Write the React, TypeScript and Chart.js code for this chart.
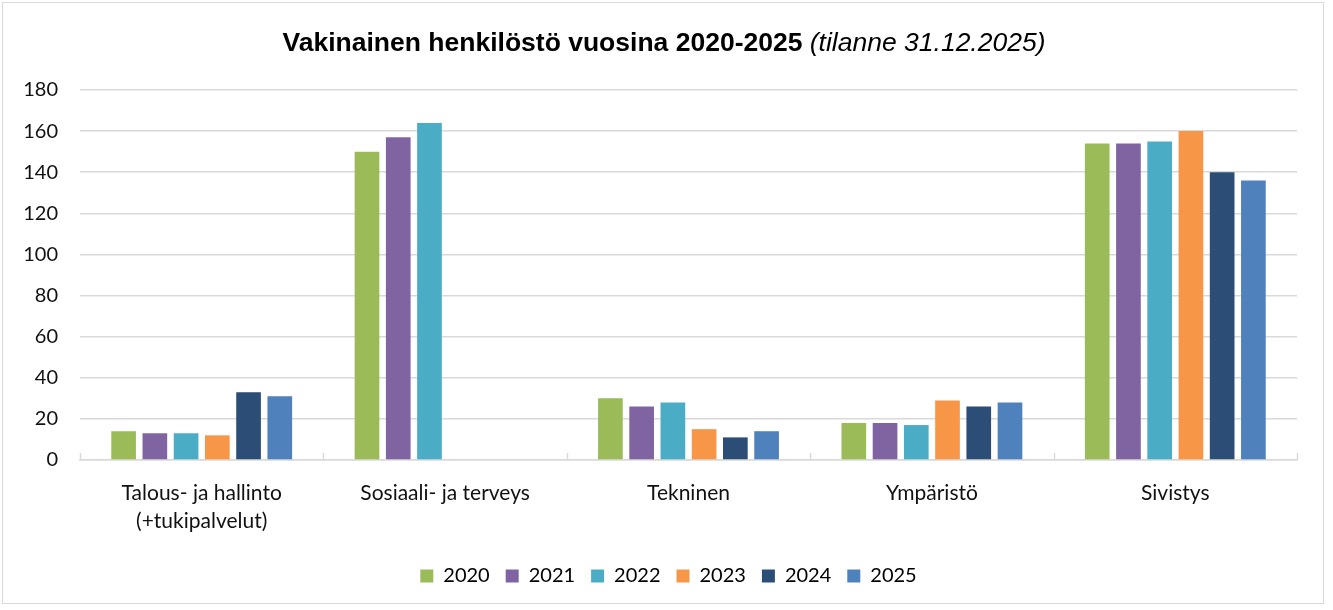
import React, { useEffect, useRef } from "react";
import { Chart, registerables } from "chart.js";

Chart.register(...registerables);

const categories: (string | string[])[] = [
  ["Talous- ja hallinto", "(+tukipalvelut)"],
  "Sosiaali- ja terveys",
  "Tekninen",
  "Ympäristö",
  "Sivistys",
];
const years = ["2020", "2021", "2022", "2023", "2024", "2025"];
const v2020 = [14, 150, 30, 18, 154];
const v2021 = [13, 157, 26, 18, 154];
const v2022 = [13, 164, 28, 17, 155];
const v2023 = [12, null, 15, 29, 160];
const v2024 = [33, null, 11, 26, 140];
const v2025 = [31, null, 14, 28, 136];
const seriesValues = [v2020, v2021, v2022, v2023, v2024, v2025];
const colors = ["#9BBB59", "#8064A2", "#4BACC6", "#F79646", "#2C4D75", "#4F81BD"];
const yTicks = [0, 20, 40, 60, 80, 100, 120, 140, 160, 180];
const titleMain = "Vakinainen henkilöstö vuosina 2020-2025";
const titleSub = "(tilanne 31.12.2025)";

const FONT = "Lato, 'Liberation Sans', sans-serif";

const titlePlugin = {
  id: "mixedTitle",
  afterLayout(chart: any) {
    if (chart.legend) {
      chart.legend.left += 20;
      chart.legend.right += 20;
    }
  },
  afterDraw(chart: any) {
    const ctx = chart.ctx;
    ctx.save();
    const boldFont = "bold 26.5px 'Liberation Sans', Arial, sans-serif";
    const italicFont = "italic 26.5px 'Liberation Sans', Arial, sans-serif";
    ctx.font = boldFont;
    const w1 = ctx.measureText(titleMain + " ").width;
    ctx.font = italicFont;
    const w2 = ctx.measureText(titleSub).width;
    const cx = 664;
    let x = cx - (w1 + w2) / 2;
    ctx.textBaseline = "middle";
    ctx.textAlign = "left";
    ctx.fillStyle = "#000";
    ctx.font = boldFont;
    ctx.fillText(titleMain + " ", x, 44);
    ctx.font = italicFont;
    ctx.fillText(titleSub, x + w1, 44);
    ctx.restore();
  },
};

const innerTicksPlugin = {
  id: "innerTicks",
  afterDatasetsDraw(chart: any) {
    const { ctx, chartArea, scales } = chart;
    const xs = scales.x;
    const n = categories.length;
    const step = (chartArea.right - chartArea.left) / n;
    ctx.save();
    ctx.strokeStyle = "#d9d9d9";
    ctx.lineWidth = 1.5;
    for (let i = 0; i <= n; i++) {
      const x = Math.round(xs.left + step * i) + 0.5;
      ctx.beginPath();
      ctx.moveTo(x, chartArea.bottom - 7);
      ctx.lineTo(x, chartArea.bottom);
      ctx.stroke();
    }
    ctx.restore();
  },
};

export default function App() {
  const ref = useRef<HTMLCanvasElement | null>(null);
  useEffect(() => {
    if (!ref.current) return;
    const chart = new Chart(ref.current, {
      type: "bar",
      data: {
        labels: categories,
        datasets: years.map((y, i) => ({
          label: y,
          data: seriesValues[i],
          backgroundColor: colors[i],
          borderWidth: 0,
          categoryPercentage: 0.77,
          barPercentage: 0.79,
        })),
      },
      options: {
        animation: false,
        responsive: false,
        layout: { padding: { top: 90, right: 36, left: 0, bottom: 14 } },
        plugins: {
          title: { display: false },
          tooltip: { enabled: false },
          legend: {
            position: "bottom",
            labels: {
              boxWidth: 13,
              boxHeight: 13,
              padding: 16,
              color: "#000",
              font: { family: FONT, size: 20 },
            },
          },
        },
        scales: {
          x: {
            grid: { display: false, drawTicks: false },
            border: { display: true, color: "#d9d9d9", width: 1.5 },
            ticks: {
              color: "#111",
              font: { family: FONT, size: 21, lineHeight: 1.33 },
              padding: 19,
              maxRotation: 0,
              autoSkip: false,
            },
            afterFit(scale: any) {
              scale.height = 90;
            },
          },
          y: {
            min: 0,
            max: 180,
            afterBuildTicks(scale: any) {
              scale.ticks = yTicks.map((v) => ({ value: v }));
            },
            grid: { color: "#d9d9d9", lineWidth: 1.5, drawTicks: false },
            border: { display: false },
            ticks: {
              color: "#111",
              font: { family: FONT, size: 20 },
              padding: 22,
            },
            afterFit(scale: any) {
              scale.width = 80;
            },
          },
        },
      },
      plugins: [titlePlugin, innerTicksPlugin],
    });
    return () => chart.destroy();
  }, []);
  return (
    <div style={{ position: "fixed", left: 0, top: 0, width: 1333, height: 610, background: "#fff" }}>
      <div
        style={{
          position: "absolute",
          left: 2,
          top: 2,
          width: 1322,
          height: 602,
          border: "1.5px solid #d9d9d9",
          boxSizing: "border-box",
        }}
      />
      <canvas ref={ref} width={1333} height={610} style={{ position: "absolute", left: 0, top: 0 }} />
    </div>
  );
}
